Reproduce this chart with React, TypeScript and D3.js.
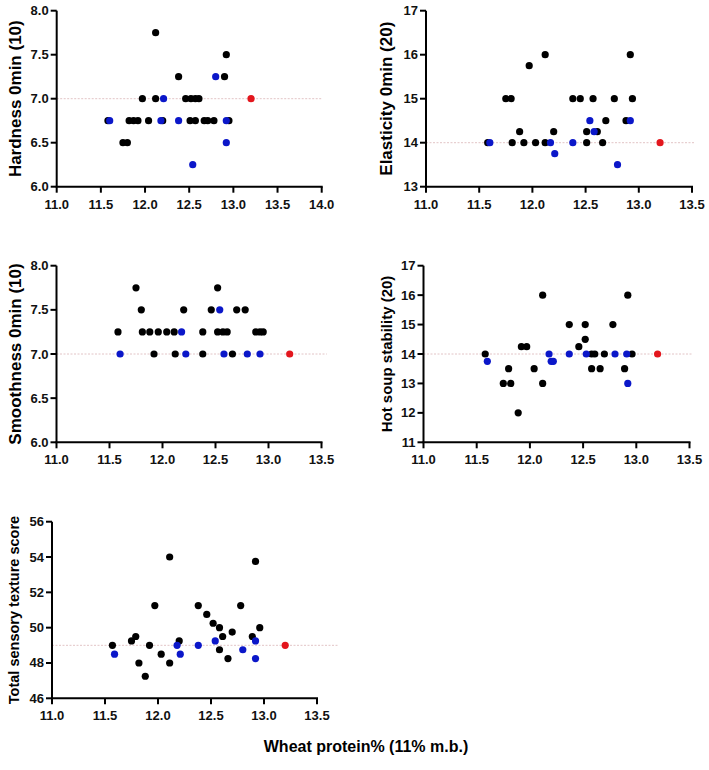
import React from "react";
import * as d3 from "d3";

type Pt = [number, number];

// Hardness 0min (10)
const hardnessBlack: Pt[] = [
  [11.58, 6.75], [11.75, 6.5], [11.8, 6.5], [11.82, 6.75], [11.87, 6.75], [11.92, 6.75],
  [11.97, 7.0], [12.04, 6.75], [12.12, 7.75], [12.12, 7.0], [12.2, 6.75], [12.38, 7.25],
  [12.46, 7.0], [12.52, 7.0], [12.57, 7.0], [12.61, 7.0], [12.51, 6.75], [12.57, 6.75],
  [12.67, 6.75], [12.71, 6.75], [12.78, 6.75], [12.9, 7.25], [12.92, 7.5], [12.95, 6.75],
];
const hardnessBlue: Pt[] = [
  [11.6, 6.75], [12.18, 6.75], [12.21, 7.0], [12.38, 6.75], [12.54, 6.25], [12.8, 7.25],
  [12.92, 6.75], [12.92, 6.5],
];
const hardnessRed: Pt[] = [[13.2, 7.0]];

// Elasticity 0min (20)
const elasticityBlack: Pt[] = [
  [11.58, 14], [11.75, 15], [11.8, 15], [11.81, 14], [11.88, 14.25], [11.92, 14],
  [11.97, 15.75], [12.03, 14], [12.12, 16], [12.12, 14], [12.2, 14.25], [12.38, 15],
  [12.45, 15], [12.51, 14.25], [12.51, 14], [12.57, 15], [12.61, 14.25], [12.66, 14],
  [12.69, 14.5], [12.77, 15], [12.88, 14.5], [12.92, 16], [12.94, 15],
];
const elasticityBlue: Pt[] = [
  [11.6, 14], [12.17, 14], [12.21, 13.75], [12.38, 14], [12.54, 14.5], [12.58, 14.25],
  [12.8, 13.5], [12.92, 14.5],
];
const elasticityRed: Pt[] = [[13.2, 14]];

// Smoothness 0min (10)
const smoothnessBlack: Pt[] = [
  [11.75, 7.75], [12.52, 7.75], [11.8, 7.5], [12.2, 7.5], [12.46, 7.5], [12.7, 7.5],
  [12.78, 7.5], [11.58, 7.25], [11.81, 7.25], [11.88, 7.25], [11.96, 7.25], [12.04, 7.25],
  [12.11, 7.25], [12.38, 7.25], [12.52, 7.25], [12.57, 7.25], [12.61, 7.25], [12.88, 7.25],
  [12.92, 7.25], [12.95, 7.25], [11.92, 7.0], [12.12, 7.0], [12.38, 7.0], [12.66, 7.0],
];
const smoothnessBlue: Pt[] = [
  [11.6, 7.0], [12.18, 7.25], [12.22, 7.0], [12.54, 7.5], [12.58, 7.0], [12.8, 7.0],
  [12.92, 7.0],
];
const smoothnessRed: Pt[] = [[13.2, 7.0]];

// Hot soup stability (20)
const stabilityBlack: Pt[] = [
  [12.12, 16], [12.92, 16], [12.37, 15], [12.52, 15], [12.78, 15], [12.52, 14.5],
  [12.46, 14.25], [11.92, 14.25], [11.97, 14.25], [11.58, 14], [12.58, 14], [12.61, 14],
  [12.7, 14], [12.96, 14], [11.8, 13.5], [12.04, 13.5], [12.58, 13.5], [12.66, 13.5],
  [12.89, 13.5], [11.75, 13], [11.82, 13], [12.12, 13], [11.89, 12],
];
const stabilityBlue: Pt[] = [
  [12.18, 14], [12.37, 14], [12.53, 14], [12.8, 14], [12.91, 14], [11.6, 13.75],
  [12.2, 13.75], [12.22, 13.75], [12.92, 13],
];
const stabilityRed: Pt[] = [[13.2, 14]];

// Total sensory texture score
const totalBlack: Pt[] = [
  [11.57, 49], [11.75, 49.25], [11.79, 49.5], [11.82, 48], [11.88, 47.25], [11.92, 49],
  [11.97, 51.25], [12.03, 48.5], [12.11, 54], [12.11, 48], [12.2, 49.25], [12.38, 51.25],
  [12.46, 50.75], [12.52, 50.25], [12.58, 50], [12.58, 48.75], [12.61, 49.5], [12.66, 48.25],
  [12.7, 49.75], [12.78, 51.25], [12.89, 49.5], [12.92, 53.75], [12.96, 50],
];
const totalBlue: Pt[] = [
  [11.59, 48.5], [12.18, 49], [12.21, 48.5], [12.38, 49], [12.54, 49.25], [12.8, 48.75],
  [12.92, 49.25], [12.92, 48.25],
];
const totalRed: Pt[] = [[13.2, 49]];

const xTicksWide = [11.0, 11.5, 12.0, 12.5, 13.0, 13.5, 14.0];
const xTicks = [11.0, 11.5, 12.0, 12.5, 13.0, 13.5];
const yTicksTen = [6.0, 6.5, 7.0, 7.5, 8.0];
const yTicksTwenty = [13, 14, 15, 16, 17];
const yTicksStability = [11, 12, 13, 14, 15, 16, 17];
const yTicksTotal = [46, 48, 50, 52, 54, 56];

const xTitle = "Wheat protein% (11% m.b.)";

const FONT = "'Liberation Sans', Arial, Helvetica, sans-serif";
const BLACK = "#000000";
const BLUE = "#0b17c9";
const RED = "#e3161d";

interface PanelSpec {
  title: string;
  titleSize: number;
  titleX: number;
  left: number;
  top: number;
  width: number;
  height: number;
  xTicks: number[];
  yTicks: number[];
  yFormat: string;
  refEnd: number;
  black: Pt[];
  blue: Pt[];
  red: Pt[];
}

const panels: PanelSpec[] = [
  {
    title: "Hardness 0min (10)", titleSize: 17, titleX: 15,
    left: 56.7, top: 10.7, width: 265, height: 176,
    xTicks: xTicksWide, yTicks: yTicksTen, yFormat: ".1f", refEnd: 14.0,
    black: hardnessBlack, blue: hardnessBlue, red: hardnessRed,
  },
  {
    title: "Elasticity 0min (20)", titleSize: 17, titleX: 386.5,
    left: 426, top: 10.7, width: 266, height: 176,
    xTicks, yTicks: yTicksTwenty, yFormat: "d", refEnd: 13.52,
    black: elasticityBlack, blue: elasticityBlue, red: elasticityRed,
  },
  {
    title: "Smoothness 0min (10)", titleSize: 17, titleX: 15,
    left: 56.5, top: 265.7, width: 265, height: 176.6,
    xTicks, yTicks: yTicksTen, yFormat: ".1f", refEnd: 13.55,
    black: smoothnessBlack, blue: smoothnessBlue, red: smoothnessRed,
  },
  {
    title: "Hot soup stability (20)", titleSize: 15, titleX: 386.5,
    left: 423.5, top: 265.7, width: 266, height: 176.6,
    xTicks, yTicks: yTicksStability, yFormat: "d", refEnd: 13.52,
    black: stabilityBlack, blue: stabilityBlue, red: stabilityRed,
  },
  {
    title: "Total sensory texture score", titleSize: 14.5, titleX: 13.5,
    left: 52, top: 521.7, width: 265, height: 176.6,
    xTicks, yTicks: yTicksTotal, yFormat: "d", refEnd: 13.7,
    black: totalBlack, blue: totalBlue, red: totalRed,
  },
];

function Panel({ spec }: { spec: PanelSpec }) {
  const { left, top, width, height } = spec;
  const x = d3
    .scaleLinear()
    .domain([spec.xTicks[0], spec.xTicks[spec.xTicks.length - 1]])
    .range([left, left + width]);
  const y = d3
    .scaleLinear()
    .domain([spec.yTicks[0], spec.yTicks[spec.yTicks.length - 1]])
    .range([top + height, top]);
  const fx = d3.format(".1f");
  const fy = d3.format(spec.yFormat);
  const bottom = top + height;
  const refValue = spec.red[0][1];
  const tick = 6;
  const r = 3.6;

  const dots = (pts: Pt[], color: string, key: string) =>
    pts.map((p, i) => (
      <circle key={`${key}${i}`} cx={x(p[0])} cy={y(p[1])} r={r} fill={color} />
    ));

  return (
    <g>
      {/* control reference line */}
      <line
        x1={x(spec.xTicks[0])}
        x2={x(spec.refEnd)}
        y1={y(refValue)}
        y2={y(refValue)}
        stroke="#e2c4c6"
        strokeWidth={1}
        strokeDasharray="2 1.5"
      />
      {/* axes */}
      <line x1={left} x2={left} y1={top} y2={bottom} stroke="#000" strokeWidth={2} />
      <line x1={left - 1} x2={left + width + 1} y1={bottom} y2={bottom} stroke="#000" strokeWidth={2} />
      {spec.yTicks.map((t) => (
        <g key={`y${t}`}>
          <line x1={left - tick} x2={left} y1={y(t)} y2={y(t)} stroke="#000" strokeWidth={2} />
          <text
            x={left - tick - 2}
            y={y(t)}
            textAnchor="end"
            dominantBaseline="central"
            fontFamily={FONT}
            fontWeight="bold"
            fontSize={13}
            fill="#111"
          >
            {fy(t)}
          </text>
        </g>
      ))}
      {spec.xTicks.map((t) => (
        <g key={`x${t}`}>
          <line x1={x(t)} x2={x(t)} y1={bottom} y2={bottom + tick} stroke="#000" strokeWidth={2} />
          <text
            x={x(t)}
            y={bottom + 22}
            textAnchor="middle"
            fontFamily={FONT}
            fontWeight="bold"
            fontSize={13}
            fill="#111"
          >
            {fx(t)}
          </text>
        </g>
      ))}
      <text
        transform={`translate(${spec.titleX},${top + height / 2}) rotate(-90)`}
        textAnchor="middle"
        dominantBaseline="central"
        fontFamily={FONT}
        fontWeight="bold"
        fontSize={spec.titleSize}
        fill="#000"
      >
        {spec.title}
      </text>
      {dots(spec.black, BLACK, "k")}
      {dots(spec.blue, BLUE, "b")}
      {dots(spec.red, RED, "r")}
    </g>
  );
}

export default function App() {
  return (
    <svg
      width={709}
      height={770}
      viewBox="0 0 709 770"
      style={{ position: "absolute", left: 0, top: 0, background: "#fff" }}
    >
      <rect width={709} height={770} fill="#fff" />
      {panels.map((p, i) => (
        <Panel key={i} spec={p} />
      ))}
      <text
        x={366}
        y={752}
        textAnchor="middle"
        fontFamily={FONT}
        fontWeight="bold"
        fontSize={16}
        fill="#000"
      >
        {xTitle}
      </text>
    </svg>
  );
}
